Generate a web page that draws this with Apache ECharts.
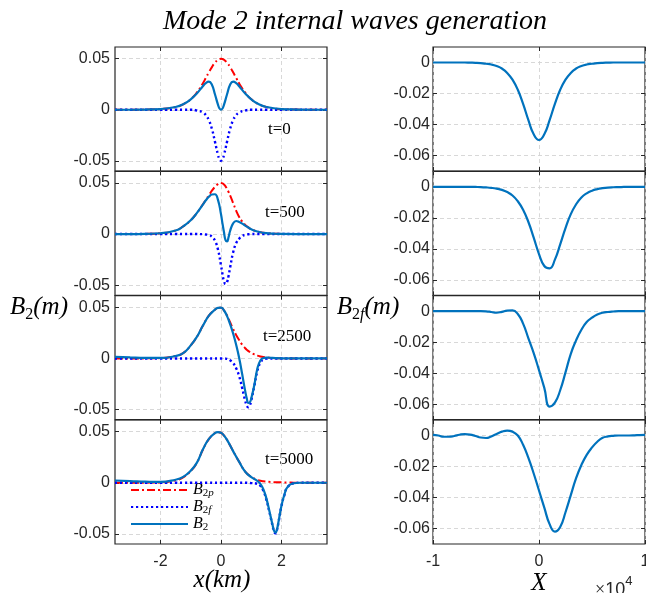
<!DOCTYPE html>
<html>
<head>
<meta charset="utf-8">
<script src="https://cdn.jsdelivr.net/npm/echarts@6/dist/echarts.min.js"></script>
<style>html,body{margin:0;padding:0;background:#fff}#c{width:646px;height:593px}</style>
</head>
<body>
<div id="c"></div>
<script>
// ---------------- data ----------------
// left column: x in km
const xT0 = [-3.5,-3,-2.5,-2,-1.5,-1.25,-1,-0.8,-0.6,-0.5,-0.4,-0.3,-0.2,-0.1,-0.05,0,0.05,0.1,0.2,0.3,0.4,0.5,0.6,0.8,1,1.25,1.5,2,2.5,3,3.5];
const b2pT0 = [0,0,0.0002,0.0007,0.0027,0.0053,0.0103,0.0167,0.0258,0.0312,0.0367,0.0418,0.0461,0.0490,0.0497,0.0500,0.0497,0.0490,0.0461,0.0418,0.0367,0.0312,0.0258,0.0167,0.0103,0.0053,0.0027,0.0007,0.0002,0,0];
const b2fT0 = [0,0,0,0,0,0,0,-0.0007,-0.0027,-0.0053,-0.0103,-0.0188,-0.0312,-0.0441,-0.0484,-0.0500,-0.0484,-0.0441,-0.0312,-0.0188,-0.0103,-0.0053,-0.0027,-0.0007,0,0,0,0,0,0,0];
const b2T0 = [0,0,0.0002,0.0007,0.0027,0.0053,0.0102,0.0160,0.0231,0.0262,0.0275,0.0245,0.0152,0.0050,0.0013,0,0.0013,0.0050,0.0152,0.0245,0.0275,0.0262,0.0231,0.0160,0.0102,0.0053,0.0027,0.0007,0.0002,0,0];

const xT500 = [-3.5,-3,-2.5,-2,-1.5,-1.25,-1,-0.8,-0.6,-0.5,-0.4,-0.3,-0.2,-0.1,0,0.05,0.1,0.15,0.2,0.25,0.3,0.4,0.5,0.6,0.7,0.8,0.9,1,1.2,1.4,1.6,1.8,2,2.5,3,3.5];
const b2pT500 = [0,0,0.0002,0.0008,0.0035,0.0075,0.0135,0.0205,0.0290,0.0335,0.0380,0.0425,0.0462,0.0490,0.0500,0.0496,0.0485,0.0467,0.0440,0.0412,0.0378,0.0305,0.0230,0.0168,0.0123,0.0090,0.0065,0.0047,0.0025,0.0013,0.0006,0.0003,0.0001,0,0,0];
const b2fT500 = [0,0,0,0,0,0,0,0,-0.0001,-0.0004,-0.0010,-0.0026,-0.0065,-0.0152,-0.0306,-0.0394,-0.0463,-0.0490,-0.0470,-0.0410,-0.0330,-0.0180,-0.0090,-0.0045,-0.0020,-0.0007,-0.0002,0,0,0,0,0,0,0,0,0];
const b2T500 = [0,0,0.0002,0.0008,0.0035,0.0075,0.0135,0.0205,0.0289,0.0331,0.0365,0.0388,0.0390,0.0335,0.0194,0.0102,0.0015,-0.0060,-0.0072,-0.0030,0.0030,0.0105,0.0128,0.0118,0.0102,0.0083,0.0064,0.0047,0.0025,0.0013,0.0006,0.0003,0.0001,0,0,0];

const xT2500 = [-3.5,-3,-2.5,-2,-1.5,-1.25,-1,-0.8,-0.6,-0.4,-0.2,-0.1,0,0.1,0.2,0.3,0.4,0.5,0.6,0.7,0.75,0.8,0.85,0.9,0.95,1,1.1,1.2,1.3,1.4,1.5,1.6,1.8,2,2.5,3,3.5];
const b2pT2500 = [0,0,0.0001,0.0004,0.0024,0.0052,0.0128,0.0210,0.0320,0.0420,0.0478,0.0496,0.0498,0.0470,0.0420,0.0355,0.0290,0.0230,0.0180,0.0135,0.0117,0.0100,0.0086,0.0074,0.0063,0.0054,0.0040,0.0028,0.0020,0.0014,0.0010,0.0007,0.0003,0.0001,0,0,0];
const b2fT2500 = [0,0,0,0,0,0,0,0,0,0,0,0,0,0,-0.0005,-0.0018,-0.0045,-0.0095,-0.0175,-0.0290,-0.0355,-0.0415,-0.0462,-0.0478,-0.0460,-0.0410,-0.0270,-0.0125,-0.0040,-0.0010,-0.0002,0,0,0,0,0,0];
const b2T2500 = [0.0015,0.0010,0.0006,0.0005,0.0024,0.0052,0.0128,0.0210,0.0320,0.0420,0.0478,0.0496,0.0498,0.0470,0.0415,0.0337,0.0245,0.0135,0.0005,-0.0155,-0.0240,-0.0320,-0.0390,-0.0435,-0.0430,-0.0390,-0.0260,-0.0100,-0.0020,0.0004,0.0008,0.0007,0.0003,0.0001,0,0,0];

const xT5000 = [-3.5,-3,-2.5,-2,-1.5,-1.25,-1,-0.8,-0.6,-0.4,-0.2,-0.1,0,0.1,0.2,0.4,0.6,0.8,1,1.2,1.3,1.4,1.5,1.6,1.65,1.7,1.75,1.8,1.85,1.9,2,2.1,2.2,2.4,2.6,3,3.5];
const b2pT5000 = [0,0,0.0001,0.0004,0.0025,0.0053,0.0115,0.0193,0.0323,0.0428,0.0486,0.0496,0.0490,0.0462,0.0420,0.0310,0.0205,0.0110,0.0058,0.0028,0.0020,0.0015,0.0012,0.0009,0.0008,0.0007,0.0006,0.0006,0.0005,0.0005,0.0004,0.0003,0.0002,0.0001,0,0,0];
const b2fT5000 = [0,0,0,0,0,0,0,0,0,0,0,0,0,0,0,0,0,0,-0.0003,-0.0010,-0.0030,-0.0080,-0.0167,-0.0289,-0.0353,-0.0417,-0.0476,-0.0496,-0.0460,-0.0385,-0.0224,-0.0113,-0.0042,-0.0006,0,0,0];
const b2T5000 = [0.0022,0.0017,0.0011,0.0008,0.0030,0.0058,0.0118,0.0195,0.0325,0.0430,0.0487,0.0496,0.0490,0.0462,0.0420,0.0310,0.0205,0.0108,0.0055,0.0018,-0.0010,-0.0065,-0.0155,-0.0280,-0.0345,-0.0410,-0.0470,-0.0490,-0.0455,-0.0380,-0.0220,-0.0110,-0.0040,-0.0005,0,0,0];

// right column: X in m
const xRight = [-10000,-9500,-9000,-8500,-8000,-7500,-7000,-6500,-6000,-5500,-5000,-4500,-4000,-3500,-3000,-2500,-2000,-1500,-1000,-500,0,500,1000,1500,2000,2500,3000,3500,4000,4500,5000,5500,6000,6500,7000,7500,8000,8500,9000,9500,10000];
const rB2fT0 = [0,0,0,0,0,0,0,-0.0001,-0.0002,-0.0004,-0.0008,-0.0013,-0.0023,-0.0039,-0.0067,-0.0111,-0.0176,-0.0267,-0.0372,-0.0463,-0.0500,-0.0463,-0.0372,-0.0267,-0.0176,-0.0111,-0.0067,-0.0039,-0.0023,-0.0013,-0.0008,-0.0004,-0.0002,-0.0001,0,0,0,0,0,0,0];
const rB2fT500 = [0,0,0,0,0,0,0,0,-0.0001,-0.0002,-0.0004,-0.0007,-0.0012,-0.0020,-0.0034,-0.0056,-0.0093,-0.0148,-0.0227,-0.0328,-0.0434,-0.0511,-0.0526,-0.0470,-0.0371,-0.0266,-0.0176,-0.0113,-0.0069,-0.0042,-0.0025,-0.0015,-0.0009,-0.0005,-0.0003,-0.0002,-0.0001,0,0,0,0];
const rB2fT2500 = [0,0,0,0,0,0,0,0,0,0,-0.0001,-0.0005,-0.0010,-0.0004,0.0004,0.0005,-0.0018,-0.0080,-0.0175,-0.0270,-0.0380,-0.0495,-0.0615,-0.0590,-0.0510,-0.0395,-0.0275,-0.0188,-0.0120,-0.0070,-0.0042,-0.0022,-0.0010,-0.0005,-0.0002,0,0,0,0,0,0];
const rB2fT5000 = [0.0004,0,-0.0008,-0.0008,-0.0003,0.0005,0.0009,0.0006,-0.0003,-0.0013,-0.0016,-0.0006,0.0010,0.0025,0.0032,0.0025,0,-0.0060,-0.0145,-0.0245,-0.0355,-0.0465,-0.0572,-0.0620,-0.0590,-0.0495,-0.0385,-0.0275,-0.0190,-0.0125,-0.0077,-0.0040,-0.0015,-0.0006,-0.0002,0,0,0,0.0001,0.0003,0.0004];

// ticks and labels
const leftXTicks = [-2, 0, 2];
const leftYTicks = [-0.05, 0, 0.05];
const rightXTicks = [-10000, 0, 10000];
const rightYTicks = [-0.06, -0.04, -0.02, 0];
const timeLabels = ['t=0', 't=500', 't=2500', 't=5000'];
const seriesNames = ['B2p', 'B2f', 'B2'];

// ---------------- layout / styles ----------------
const TOPS = [47, 171.3, 295.7, 420];
const H = 124;
const INK = '#262626';
const SANS = 'Liberation Sans, Arial, sans-serif';
const SERIF = 'Liberation Serif, Times New Roman, serif';
const gridDash = { type: [4, 3], color: '#d4d4d4', width: 0.9 };
const tickStyle = { color: INK, width: 1 };

const leftPanels = [
  { x: xT0, p: b2pT0, f: b2fT0, b: b2T0 },
  { x: xT500, p: b2pT500, f: b2fT500, b: b2T500 },
  { x: xT2500, p: b2pT2500, f: b2fT2500, b: b2T2500 },
  { x: xT5000, p: b2pT5000, f: b2fT5000, b: b2T5000 }
];
const rightPanels = [rB2fT0, rB2fT500, rB2fT2500, rB2fT5000];
const zip = (xs, ys) => xs.map((v, i) => [v, ys[i]]);

const grids = [], xB = [], xT = [], yL = [], yR = [], series = [];
const noLine = { show: false, onZero: false };

for (let c = 0; c < 2; c++) {
  for (let r = 0; r < 4; r++) {
    const gi = c * 4 + r;
    grids.push({ left: c === 0 ? 115 : 433, top: TOPS[r], width: 212, height: H,
      containLabel: false, outerBoundsMode: 'none',
      show: true, borderColor: INK, borderWidth: 1.2, backgroundColor: 'transparent' });
    const isLeft = c === 0;
    const xMin = isLeft ? -3.5 : -10000, xMax = isLeft ? 3.5 : 10000;
    const xt = isLeft ? leftXTicks : rightXTicks;
    const yMin = isLeft ? -0.06 : -0.07, yMax = isLeft ? 0.0615 : 0.01;
    const yt = isLeft ? leftYTicks : rightYTicks;
    xB.push({ gridIndex: gi, type: 'value', min: xMin, max: xMax, position: 'bottom',
      axisLine: noLine,
      axisTick: { show: true, inside: true, length: 4, customValues: xt, lineStyle: tickStyle },
      axisLabel: { show: r === 3, customValues: xt, margin: 10, color: INK, fontFamily: SANS, fontSize: 16,
        formatter: isLeft ? (v => String(v)) : (v => String(v / 10000)) },
      splitLine: { show: true, lineStyle: gridDash } });
    xT.push({ gridIndex: gi, type: 'value', min: xMin, max: xMax, position: 'top',
      axisLine: noLine,
      axisTick: { show: true, inside: true, length: 4, customValues: xt, lineStyle: tickStyle },
      axisLabel: { show: false }, splitLine: { show: false } });
    yL.push({ gridIndex: gi, type: 'value', min: yMin, max: yMax, position: 'left',
      axisLine: noLine,
      axisTick: { show: true, inside: true, length: 4, customValues: yt, lineStyle: tickStyle },
      axisLabel: { show: true, customValues: yt, margin: isLeft ? 5 : 3, color: INK, fontFamily: SANS, fontSize: 16,
        formatter: v => String(Math.round(v * 100) / 100) },
      splitLine: { show: true, lineStyle: gridDash } });
    yR.push({ gridIndex: gi, type: 'value', min: yMin, max: yMax, position: 'right',
      axisLine: noLine,
      axisTick: { show: true, inside: true, length: 4, customValues: yt, lineStyle: tickStyle },
      axisLabel: { show: false }, splitLine: { show: false } });

    const base = { type: 'line', xAxisIndex: gi, yAxisIndex: gi, showSymbol: false, symbol: 'none',
      smooth: 0.5, silent: true };
    if (isLeft) {
      const P = leftPanels[r];
      series.push(Object.assign({}, base, { name: 'B2p', data: zip(P.x, P.p), z: 3,
        itemStyle: { color: '#ff0000' },
        lineStyle: { color: '#ff0000', width: 2, type: [8, 3, 2, 3] } }));
      series.push(Object.assign({}, base, { name: 'B2f', data: zip(P.x, P.f), z: 4,
        itemStyle: { color: '#0000ff' },
        lineStyle: { color: '#0000ff', width: 2.4, type: [2.2, 2.8] } }));
      series.push(Object.assign({}, base, { name: 'B2', data: zip(P.x, P.b), z: 5,
        itemStyle: { color: '#0072bd' },
        lineStyle: { color: '#0072bd', width: 2.2 } }));
    } else {
      series.push(Object.assign({}, base, { name: 'right' + r, data: zip(xRight, rightPanels[r]), z: 5,
        itemStyle: { color: '#0072bd' },
        lineStyle: { color: '#0072bd', width: 2.2 } }));
    }
  }
}

const mathRich = {
  b: { fontFamily: SERIF, fontStyle: 'italic', fontSize: 25, lineHeight: 32, fill: '#000', color: '#000', verticalAlign: 'middle' },
  s: { fontFamily: SERIF, fontSize: 16, lineHeight: 16, fill: '#000', color: '#000', verticalAlign: 'bottom' },
  si: { fontFamily: SERIF, fontStyle: 'italic', fontSize: 16, lineHeight: 16, fill: '#000', color: '#000', verticalAlign: 'bottom' }
};
function mtext(text, x, y, align) {
  return { type: 'text', x: x, y: y, silent: true,
    style: { text: text, rich: mathRich, align: align || 'center', textAlign: align || 'center',
      verticalAlign: 'middle', textVerticalAlign: 'middle' } };
}
function ptext(text, x, y, font, align) {
  return { type: 'text', x: x, y: y, silent: true,
    style: { text: text, font: font, fill: '#000', align: align || 'left', textAlign: align || 'left',
      verticalAlign: 'middle', textVerticalAlign: 'middle' } };
}

const graphic = [
  ptext('Mode 2 internal waves generation', 355, 22, 'italic 28px ' + SERIF, 'center'),
  mtext('{b|B}{s|2}{b|(m)}', 39, 307),
  mtext('{b|B}{s|2}{si|f}{b|(m)}', 368, 307),
  mtext('{b|x(km)}', 222, 580),
  mtext('{b|X}', 539, 583),
  { type: 'text', x: 595, y: 587, silent: true,
    style: { text: '{x|×}{a|10}{e|4}', align: 'left', textAlign: 'left', verticalAlign: 'middle', textVerticalAlign: 'middle',
      rich: { x: { fontFamily: SERIF, fontSize: 18, lineHeight: 24, fill: INK, color: INK, verticalAlign: 'bottom' },
              a: { fontFamily: SANS, fontSize: 18, lineHeight: 24, fill: INK, color: INK, verticalAlign: 'bottom' },
              e: { fontFamily: SANS, fontSize: 13, lineHeight: 13, fill: INK, color: INK, verticalAlign: 'top' } } } },
  ptext(timeLabels[0], 268, 130, '17px ' + SERIF),
  ptext(timeLabels[1], 265, 213, '17px ' + SERIF),
  ptext(timeLabels[2], 263, 337, '17px ' + SERIF),
  ptext(timeLabels[3], 265, 460, '17px ' + SERIF)
];

const option = {
  animation: false,
  backgroundColor: '#fff',
  grid: grids,
  xAxis: xB.concat(xT),
  yAxis: yL.concat(yR),
  legend: {
    data: seriesNames, orient: 'vertical', left: 130, top: 482, padding: 0,
    itemWidth: 57, itemHeight: 10, itemGap: 0.5, selectedMode: false,
    itemStyle: { opacity: 0, borderWidth: 0 },
    formatter: name => '{b|B}{s|2}' + (name.length > 2 ? '{si|' + name.slice(2) + '}' : ''),
    textStyle: { rich: {
      b: { fontFamily: SERIF, fontStyle: 'italic', fontSize: 16, lineHeight: 17, color: '#000' },
      s: { fontFamily: SERIF, fontSize: 11, lineHeight: 11, color: '#000', verticalAlign: 'bottom' },
      si: { fontFamily: SERIF, fontStyle: 'italic', fontSize: 11, lineHeight: 11, color: '#000', verticalAlign: 'bottom' }
    } }
  },
  graphic: graphic,
  series: series
};

const chart = echarts.init(document.getElementById('c'), null, { renderer: 'canvas' });
chart.setOption(option);
</script>
</body>
</html>
